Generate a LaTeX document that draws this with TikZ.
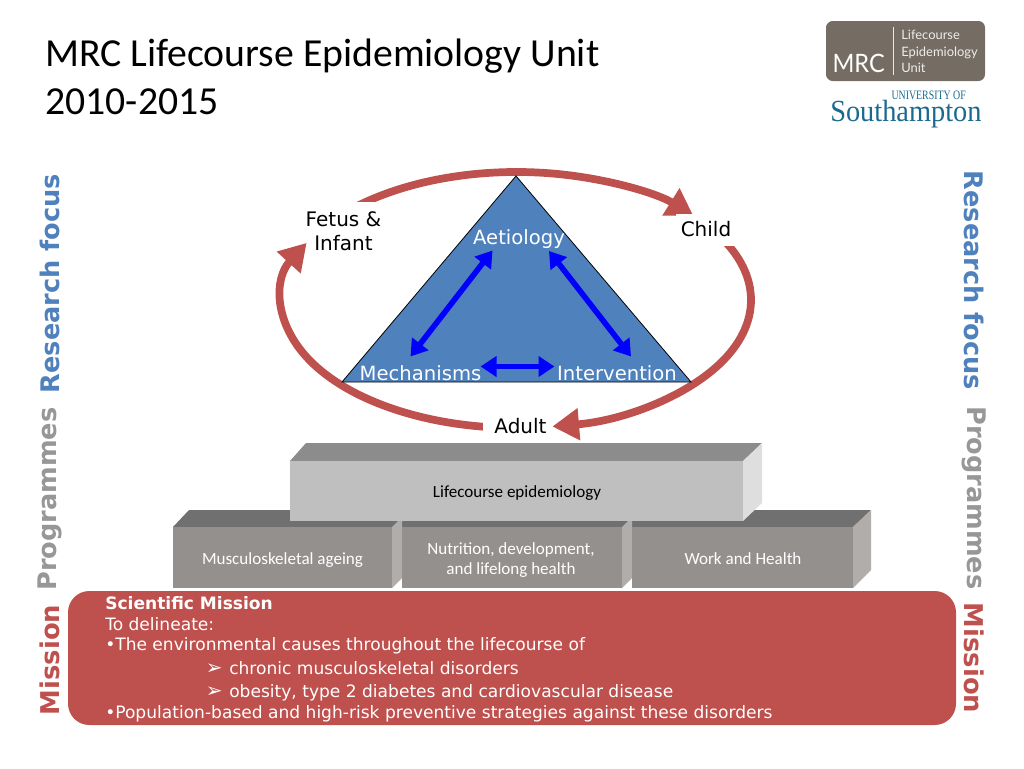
\documentclass[tikz,border=0pt]{standalone}
\usepackage{fontspec}
\setmainfont{DejaVu Sans}
\newfontfamily\calf{Carlito}
\newfontfamily\serf{Liberation Serif}
\newfontfamily\latf{Lato}
\usetikzlibrary{arrows.meta,calc}
\definecolor{mred}{HTML}{BE504D}
\definecolor{mblue}{HTML}{4F81BD}
\definecolor{mgrey}{HTML}{979797}
\definecolor{bfront}{HTML}{94908E}
\definecolor{bside}{HTML}{B0ADAB}
\definecolor{logog}{HTML}{756C63}
\definecolor{soton}{HTML}{1A6A90}
\newcommand{\fpx}[2]{\fontsize{#1}{#2}\selectfont}
\newcommand{\chev}{\makebox[15.75pt][l]{\hspace{-1.8pt}\fpx{15}{16}➢}}
\tikzset{
  x=0.75pt,y=-0.75pt,
  cyc/.style={draw=mred,line width=5.8pt,-{Triangle[length=20pt,width=23pt]}},
  dbl/.style={draw=blue,line width=4.2pt,{Triangle[length=12pt,width=15pt]}-{Triangle[length=12pt,width=15pt]}},
  wlab/.style={fill=white,inner sep=0pt,align=center,text=black,font=\fpx{15}{18}},
  tri/.style={text=white,inner sep=0pt,font=\fpx{14.7}{18}},
  side/.style={inner sep=0pt,font=\fpx{19.2}{22}\bfseries},
  sidem/.style={inner sep=0pt,font=\fpx{19.4}{22}\bfseries},
  blk/.style={inner sep=0pt,align=center,text=white,font=\calf\fpx{12.8}{15}},
  mis/.style={anchor=base west,inner sep=0pt,text=white,font=\fpx{12.8}{16}},
}
\begin{document}
\begin{tikzpicture}
\useasboundingbox (0,0) rectangle (1024,768);
% title
\node[anchor=base west,inner sep=0pt,font=\calf\fpx{29.8}{34}] (t1) at (45,66) {MRC Lifecourse Epidemiology Unit};
\node[anchor=base west,inner sep=0pt,font=\calf\fpx{29.8}{34}] (t2) at (45,114) {2010-2015};
% MRC logo
\fill[logog,rounded corners=5pt] (826,21) rectangle (985,81);
\draw[white!85!logog,line width=.8pt] (893.5,27) -- (893.5,75);
\node[anchor=base east,inner sep=0pt,text=white,font=\latf\fpx{19}{24}] (lmrc) at (885,72) {\scalebox{.93}[1]{MRC}};
\node[anchor=base west,inner sep=0pt,text=white!88!logog,font=\latf\fpx{9.7}{10}] (l1) at (901,39) {Lifecourse};
\node[anchor=base west,inner sep=0pt,text=white!88!logog,font=\latf\fpx{9.7}{10}] (l2) at (901,56) {Epidemiology};
\node[anchor=base west,inner sep=0pt,text=white!88!logog,font=\latf\fpx{9.7}{10}] (l3) at (901,72) {Unit};
\node[anchor=base east,inner sep=0pt,text=soton,font=\serf\fpx{9.6}{11}] (u1) at (966,99.5) {\scalebox{.77}[1]{UNIVERSITY OF}};
\node[anchor=base west,inner sep=0pt,text=soton,font=\serf\fpx{23}{28}] (u2) at (830,121) {\scalebox{.925}[1]{Southampton}};
% cycle arcs
\coordinate (c) at (516.5,300);
\coordinate (a1) at ($(c)+(220:234.5 and 128)$);
\draw[cyc] (a1) arc[start angle=220,end angle=319,x radius=234.5,y radius=128];
\node[wlab,minimum width=57.75pt,minimum height=42pt] (fetus) at (346.5,229.5) {};
\node[wlab,anchor=center] (fetust) at (343.5,231.5) {Fetus \&\\Infant};
\coordinate (a2) at ($(c)+(-30:234.5 and 128)$);
\draw[cyc] (a2) arc[start angle=-30,end angle=81.2,x radius=234.5,y radius=128];
\node[wlab,minimum width=45pt,minimum height=24pt] (child) at (706,230) {};
\node[wlab] (childt) at (706,229) {Child};
\coordinate (a3) at ($(c)+(94:234.5 and 128)$);
\draw[cyc] (a3) arc[start angle=94,end angle=206.5,x radius=234.5,y radius=128];
\node[wlab,minimum width=50pt,minimum height=22.5pt] (adult) at (516.5,427) {};
\node[wlab] (adultt) at (520.5,426) {Adult};
% triangle
\coordinate (ta) at (516,176);
\coordinate (tb) at (342,382);
\coordinate (tc) at (691,382);
\draw[fill=mblue,draw=black,line width=.6pt,line join=miter] (ta) -- (tc) -- (tb) -- cycle;
\node[tri] (aet) at (519,239.5) {Aetiology};
\node[tri] (mech) at (420.5,373) {Mechanisms};
\node[tri] (int) at (617,373) {Intervention};
\coordinate (p1) at (492.5,250.5);
\coordinate (p2) at (410.5,356.5);
\coordinate (p3) at (549,251);
\coordinate (p4) at (631,356.5);
\coordinate (p5) at (480.5,366.5);
\coordinate (p6) at (554.5,366.5);
\draw[dbl] (p1) -- (p2);
\draw[dbl] (p3) -- (p4);
\draw[dbl] (p5) -- (p6);
% lower blocks
\fill[gray!88!black] (173,527) -- (189,510) -- (871,510) -- (853,527) -- cycle;
\fill[bside] (853,527) -- (871,510) -- (871,570) -- (853,588) -- cycle;
\fill[bside] (622,527) -- (632,517) -- (632,578) -- (622,588) -- cycle;
\fill[bside] (392,527) -- (402,517) -- (402,578) -- (392,588) -- cycle;
\node[fill=bfront,inner sep=0pt,minimum width=164.25pt,minimum height=45.75pt] (b1) at (282.5,557.5) {};
\node[fill=bfront,inner sep=0pt,minimum width=165pt,minimum height=45.75pt] (b2) at (512,557.5) {};
\node[fill=bfront,inner sep=0pt,minimum width=165.75pt,minimum height=45.75pt] (b3) at (742.5,557.5) {};
\node[blk] (b1t) at (282.5,560) {Musculoskeletal ageing};
\node[blk] (b2t) at (511,560.5) {Nutrition, development,\\and lifelong health};
\node[blk] (b3t) at (743,558.5) {Work and Health};
% top block
\fill[gray!90] (290,461) -- (306,443) -- (762,443) -- (743,461) -- cycle;
\fill[white!87!black] (743,461) -- (762,443) -- (762,503) -- (743,521) -- cycle;
\node[fill=white!75!black,inner sep=0pt,minimum width=339.75pt,minimum height=45pt] (top) at (516.5,491) {};
\node[blk,text=black] (topt) at (517,493) {Lifecourse epidemiology};
% mission
\fill[mred,rounded corners=16pt] (68,591) rectangle (956,725);
\node[mis,font=\fpx{12.8}{16}\bfseries] (m1) at (105,609) {Scientific Mission};
\node[mis] (m2) at (105,630) {To delineate:};
\node[mis] (m3) at (105,650.5) {•The environmental causes throughout the lifecourse of};
\node[mis] (m4) at (208,674) {\chev chronic musculoskeletal disorders};
\node[mis] (m5) at (208,697.5) {\chev obesity, type 2 diabetes and cardiovascular disease};
\node[mis] (m6) at (105,718.5) {•Population-based and high-risk preventive strategies against these disorders};
% side labels
\node[side,text=mblue,rotate=90] (s1) at (50,283.5) {Research focus};
\node[side,text=mgrey,rotate=90] (s2) at (50,499) {Programmes};
\node[sidem,text=mred,rotate=90] (s3) at (50,660) {Mission};
\node[side,text=mblue,rotate=-90] (s4) at (974,280.5) {Research focus};
\node[side,text=mgrey,rotate=-90] (s5) at (974,498) {Programmes};
\node[sidem,text=mred,rotate=-90] (s6) at (974,658) {Mission};
\end{tikzpicture}
\end{document}
